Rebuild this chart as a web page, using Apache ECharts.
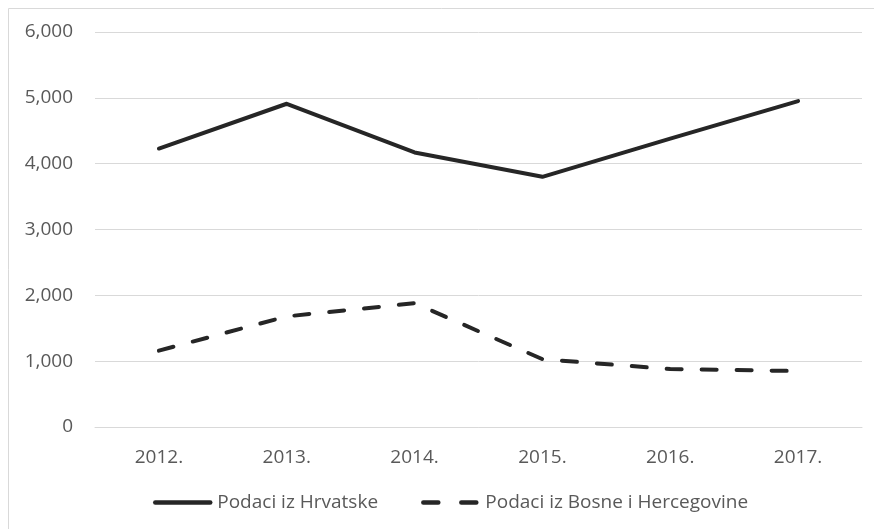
<!DOCTYPE html>
<html>
<head>
<meta charset="utf-8">
<script src="https://cdn.jsdelivr.net/npm/echarts@6/dist/echarts.min.js"></script>
<style>
  html, body { margin: 0; padding: 0; background: #fff; }
  #chart { width: 874px; height: 529px; }
</style>
</head>
<body>
<div id="chart"></div>
<script>
// godine
const years = ['2012.', '2013.', '2014.', '2015.', '2016.', '2017.']
// vrijednosti procijenjene sa slike
const hrvatska = [4230, 4910, 4170, 3800, 4380, 4950]
const bih = [1160, 1680, 1880, 1030, 880, 850]
const seriesNames = ['Podaci iz Hrvatske', 'Podaci iz Bosne i Hercegovine']

const font = '"Open Sans", sans-serif'
const chart = echarts.init(document.getElementById('chart'))

chart.setOption({
  animation: false,
  graphic: [{
    type: 'rect',
    shape: { x: 8.5, y: 8.5, width: 900, height: 600 },
    style: { fill: 'none', stroke: '#d9d9d9', lineWidth: 1 },
    silent: true
  }],
  grid: {
    left: 95,
    right: 12,
    top: 32,
    bottom: 102,
    containLabel: false
  },
  xAxis: {
    type: 'category',
    data: years,
    boundaryGap: true,
    axisLine: { show: true, lineStyle: { color: '#d9d9d9', width: 1 } },
    axisTick: { show: false },
    axisLabel: {
      margin: 21,
      color: '#595959',
      fontFamily: font,
      fontSize: 19
    }
  },
  yAxis: {
    type: 'value',
    min: 0,
    max: 6000,
    interval: 1000,
    axisLine: { show: false },
    axisTick: { show: false },
    splitLine: { lineStyle: { color: '#d9d9d9', width: 1 } },
    axisLabel: {
      margin: 22,
      color: '#595959',
      fontFamily: font,
      fontSize: 19,
      formatter: v => v.toLocaleString('en-US')
    }
  },
  legend: {
    top: 488,
    left: 148,
    itemWidth: 55,
    itemHeight: 14,
    itemGap: 43,
    itemStyle: { opacity: 0 },
    lineStyle: { width: 4.5, cap: 'round' },
    textStyle: {
      color: '#595959',
      fontFamily: font,
      fontSize: 19,
      padding: [0, 0, 0, 2]
    },
    data: [
      { name: seriesNames[0] },
      { name: seriesNames[1], lineStyle: { type: [15, 23] } }
    ]
  },
  series: [
    {
      name: seriesNames[0],
      type: 'line',
      data: hrvatska,
      symbol: 'none',
      lineStyle: { color: '#262626', width: 4, cap: 'round', join: 'round' },
      itemStyle: { color: '#262626' }
    },
    {
      name: seriesNames[1],
      type: 'line',
      data: bih,
      symbol: 'none',
      lineStyle: { color: '#262626', width: 4, type: [15, 20], cap: 'round', join: 'round' },
      itemStyle: { color: '#262626' }
    }
  ]
})
</script>
</body>
</html>
